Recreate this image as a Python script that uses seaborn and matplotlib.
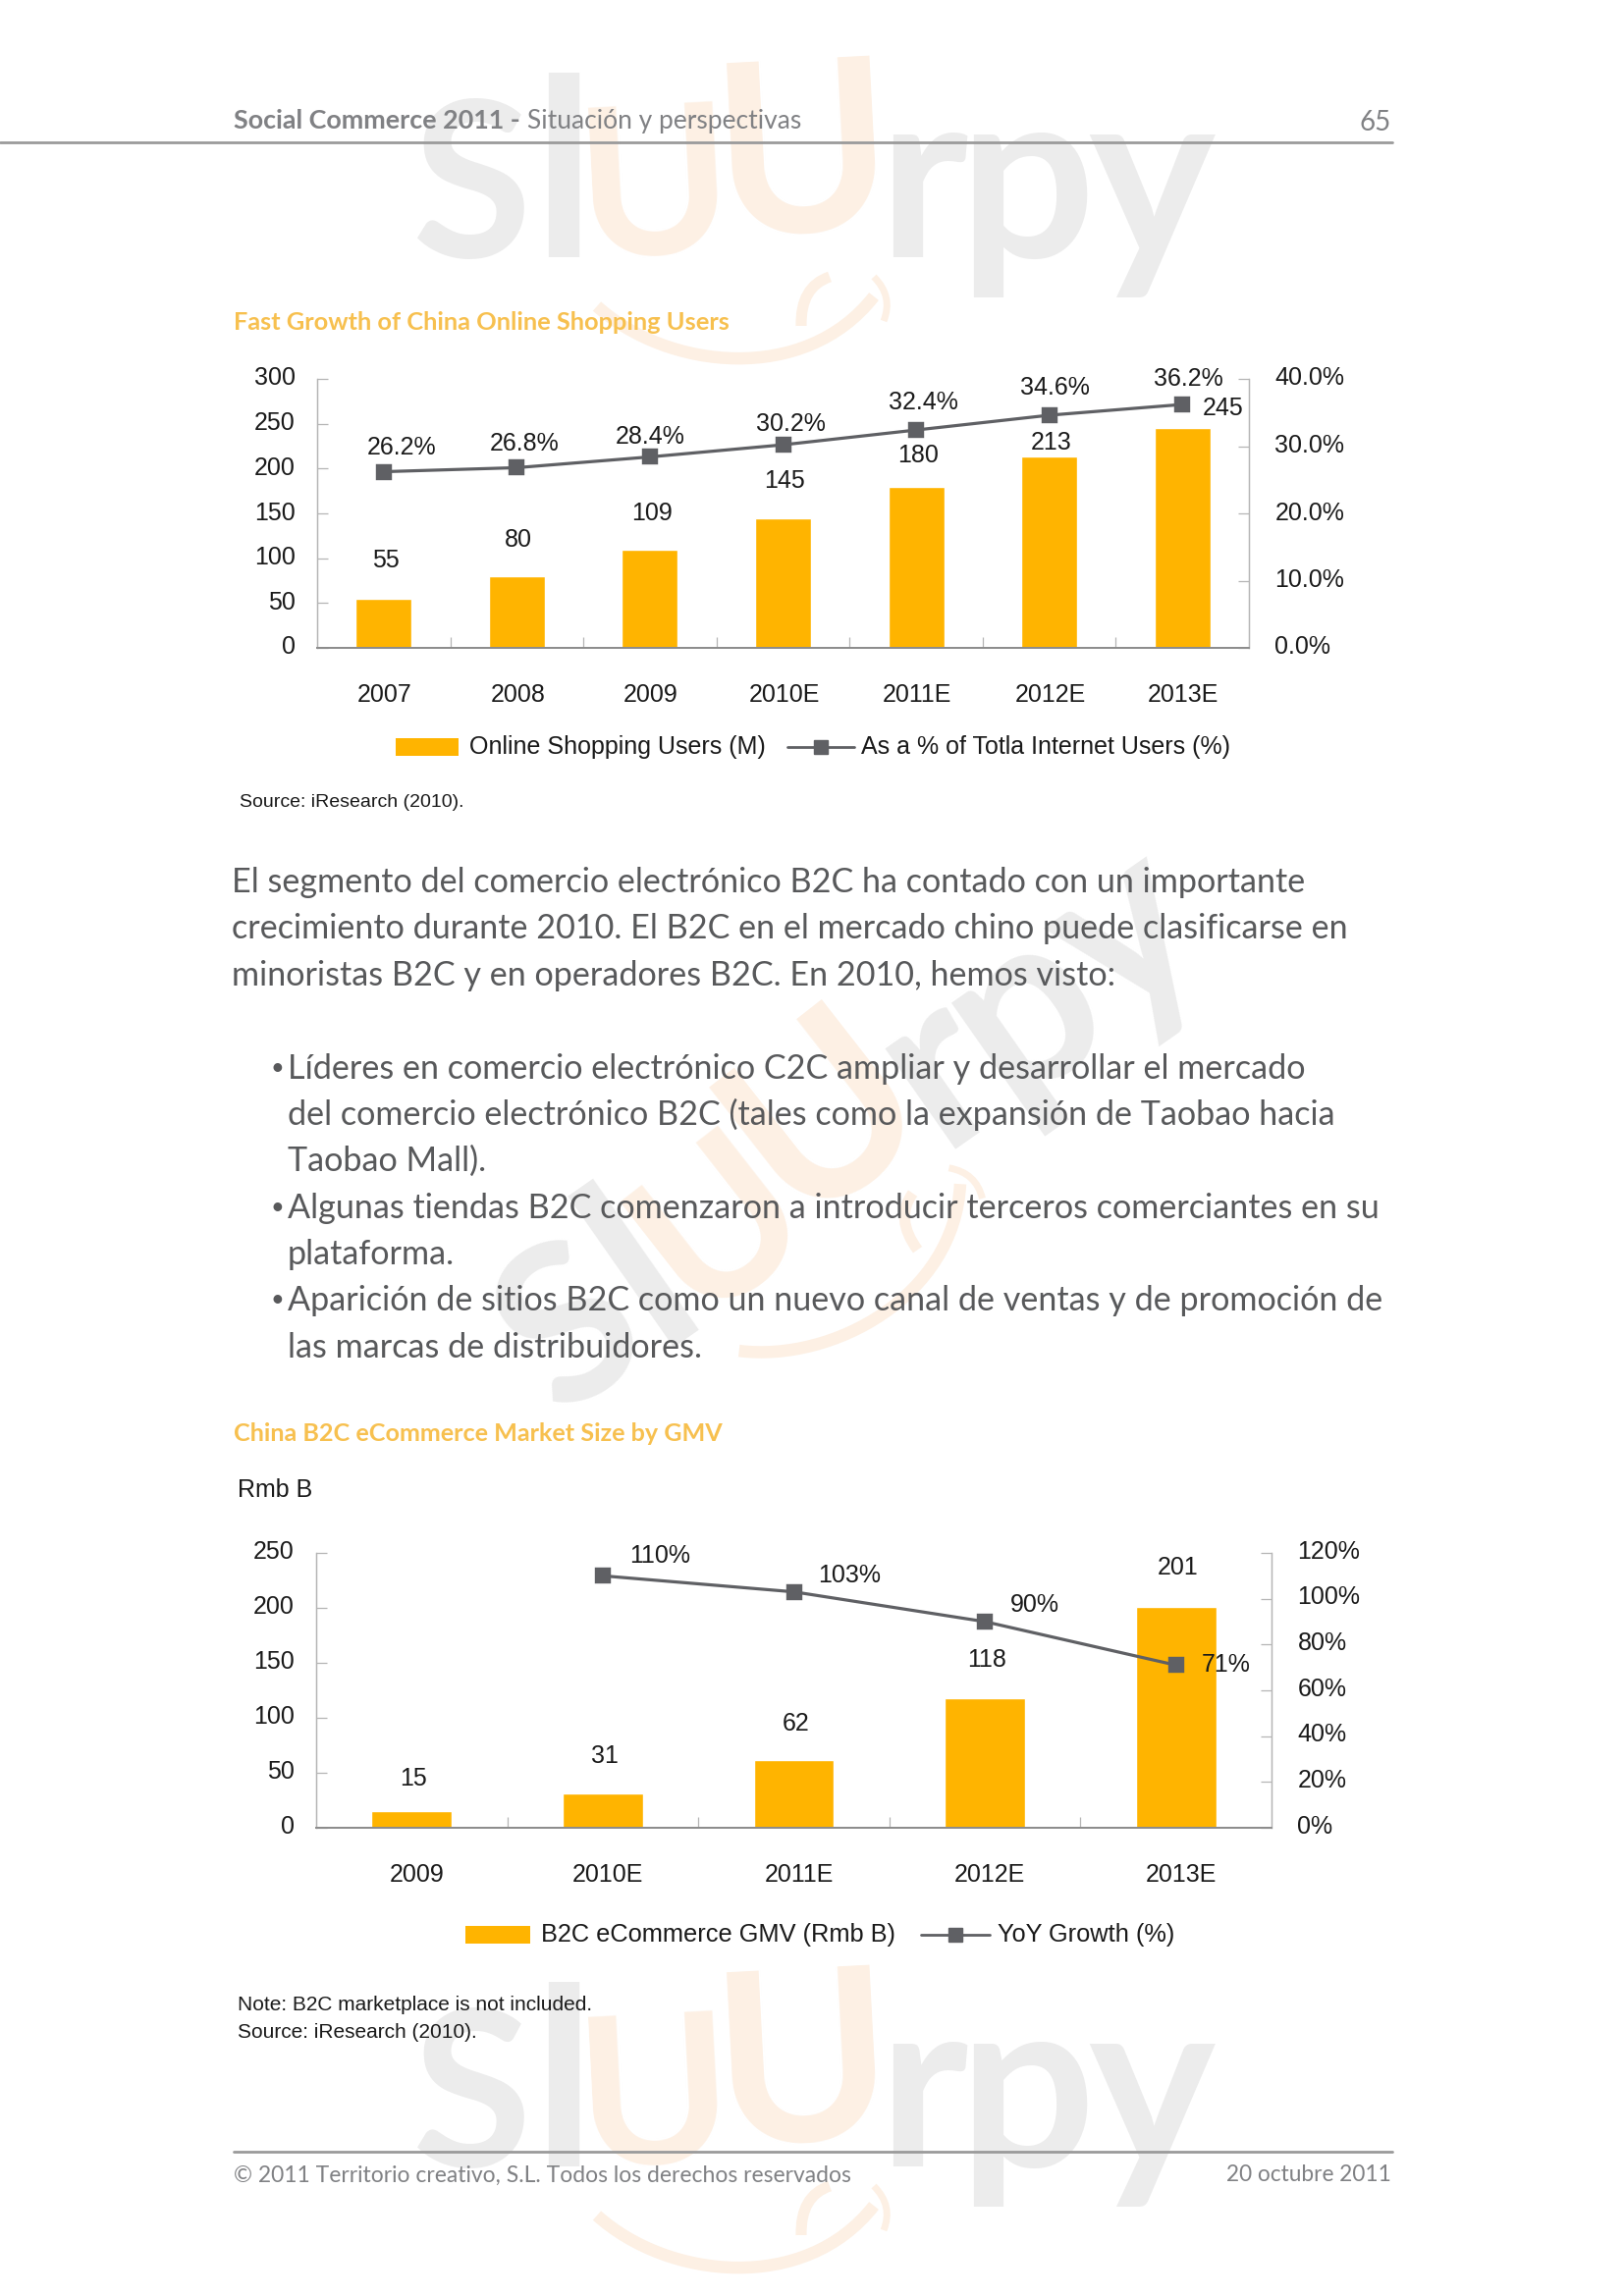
import numpy as np
import pandas as pd
import seaborn as sns
import matplotlib.pyplot as plt
from matplotlib.patches import PathPatch
from matplotlib.path import Path
from matplotlib.transforms import ScaledTranslation

# chart 1
years_users = ['2007', '2008', '2009', '2010E', '2011E', '2012E', '2013E']
users = [55, 80, 109, 145, 180, 213, 245]
users_pct = [26.2, 26.8, 28.4, 30.2, 32.4, 34.6, 36.2]

# chart 2
years_gmv = ['2009', '2010E', '2011E', '2012E', '2013E']
gmv = [15, 31, 62, 118, 201]
gmv_growth = [np.nan, 110, 103, 90, 71]

BODY_1 = ['El segmento del comercio electrónico B2C ha contado con un importante',
          'crecimiento durante 2010. El B2C en el mercado chino puede clasificarse en',
          'minoristas B2C y en operadores B2C. En 2010, hemos visto:']
BODY_2 = ['Líderes en comercio electrónico C2C ampliar y desarrollar el mercado',
          'del comercio electrónico B2C (tales como la expansión de Taobao hacia',
          'Taobao Mall).',
          'Algunas tiendas B2C comenzaron a introducir terceros comerciantes en su',
          'plataforma.',
          'Aparición de sitios B2C como un nuevo canal de ventas y de promoción de',
          'las marcas de distribuidores.']

AMBER = '#ffb400'
SLATE = '#5f6064'
INK = '#1a1a1a'
MARK_GREY = '#ececec'
MARK_PEACH = '#fdf0e4'
W, H = 1654, 2339

sns.set_style('white')
plt.rcParams['font.family'] = ['Liberation Sans', 'DejaVu Sans']

fig = plt.figure(figsize=(W / 100, H / 100), dpi=100)
page = fig.add_axes([0, 0, 1, 1])
page.set_xlim(0, W)
page.set_ylim(H, 0)
page.axis('off')


def watermark(x, y, rot):
    # logo letters laid out along a rotated baseline
    a = np.deg2rad(rot)

    def at(dx, dy):
        return x + dx * np.cos(a) + dy * np.sin(a), y - dx * np.sin(a) + dy * np.cos(a)

    letters = [('S', 0, 0, 160, MARK_GREY, 0), ('l', 122, 0, 183, MARK_GREY, 0),
               ('U', 172, 0, 152, MARK_PEACH, 3), ('U', 312, -22, 175, MARK_PEACH, 3),
               ('r', 474, 0, 176, MARK_GREY, 0), ('p', 556, 0, 176, MARK_GREY, 0),
               ('y', 688, 0, 176, MARK_GREY, 0)]
    for ch, dx, dy, size, col, tilt in letters:
        px, py = at(dx, dy)
        page.text(px, py, ch, family='Lato', weight='bold', fontsize=size, color=col,
                  rotation=rot + tilt, rotation_mode='anchor', ha='left', va='baseline', zorder=0)
    smile = Path([at(188, 50), at(260, 115), at(400, 130), at(470, 40)],
                 [Path.MOVETO, Path.CURVE4, Path.CURVE4, Path.CURVE4])
    page.add_patch(PathPatch(smile, fc='none', ec=MARK_PEACH, lw=9, zorder=0))
    tongue = Path([at(396, 70), at(395, 30), at(425, 20)], [Path.MOVETO, Path.CURVE3, Path.CURVE3])
    page.add_patch(PathPatch(tongue, fc='none', ec=MARK_PEACH, lw=8, zorder=0))
    flick = Path([at(470, 20), at(490, 40), at(480, 65)], [Path.MOVETO, Path.CURVE3, Path.CURVE3])
    page.add_patch(PathPatch(flick, fc='none', ec=MARK_PEACH, lw=5, zorder=0))


watermark(420, 262, 0)
watermark(570, 1443, 35)
watermark(420, 2207, 0)


def combo(box, cats, bars, line, ylim, y2lim, yticks, y2ticks, y2fmt, fs, xshift, yshift):
    left, top, right, bottom = box
    ax = fig.add_axes([left / W, 1 - bottom / H, (right - left) / W, (bottom - top) / H])
    ax.patch.set_alpha(0)
    df = pd.DataFrame({'cat': cats, 'bar': bars, 'line': line})
    sns.barplot(data=df, x='cat', y='bar', color=AMBER, saturation=1, width=0.42, ax=ax)
    ax2 = ax.twinx()
    sns.pointplot(data=df, x='cat', y='line', color=SLATE, markers='s', markersize=10,
                  linewidth=2.3, errorbar=None, ax=ax2)
    n = len(cats)
    for a in (ax, ax2):
        a.set_xlim(-0.5, n - 0.5)
        a.set_xlabel('')
        a.set_ylabel('')
        a.grid(False)
        a.spines['top'].set_visible(False)
        a.spines['left'].set_color('#b5b5b5')
        a.spines['right'].set_color('#b5b5b5')
        a.spines['left'].set_linewidth(0.9)
        a.spines['right'].set_linewidth(0.9)
        a.spines['bottom'].set_color('#8c8c8c')
        a.spines['bottom'].set_linewidth(1.3)
    ax.set_ylim(*ylim)
    ax2.set_ylim(*y2lim)
    ax.set_yticks(yticks)
    ax2.set_yticks(y2ticks, [y2fmt.format(v) for v in y2ticks])
    ax.tick_params(axis='y', direction='in', length=8, width=0.9, color='#b5b5b5',
                   labelsize=fs, pad=16, left=True, labelcolor=INK)
    ax2.tick_params(axis='y', direction='in', length=8, width=0.9, color='#b5b5b5',
                    labelsize=fs, pad=19, right=True, labelcolor=INK)
    ax.set_xticks(np.arange(n))
    ax.set_xticklabels(cats)
    ax.tick_params(axis='x', length=0, pad=26, labelsize=fs, labelcolor=INK)
    ax2.tick_params(axis='x', bottom=False, labelbottom=False)
    # labels sit a little off their ticks in the original
    for lab in ax.get_xticklabels():
        lab.set_transform(lab.get_transform() + ScaledTranslation(xshift / 100, 0, fig.dpi_scale_trans))
    for lab in ax.get_yticklabels() + ax2.get_yticklabels():
        lab.set_transform(lab.get_transform() + ScaledTranslation(0, yshift / 100, fig.dpi_scale_trans))
    # small ticks between the categories
    ax.vlines(np.arange(1, n) - 0.5, 0, ylim[1] * 11 / (bottom - top), color='#b5b5b5', lw=0.9)
    return ax, ax2


# first chart
ax, ax2 = combo((323, 386, 1272, 660), years_users, users, users_pct, (0, 300), (0, 40),
                [0, 50, 100, 150, 200, 250, 300], [0, 10, 20, 30, 40], '{:.1f}%', 18, 1, 3)
bar_off = [27, 25, 25, 26, 20, 2]
for i, v in enumerate(users):
    if i == 6:
        ax.annotate(str(v), (i, v), xytext=(21, 8), textcoords='offset pixels', ha='left',
                    va='bottom', fontsize=18, color=INK)
    else:
        ax.annotate(str(v), (i, v), xytext=(2, bar_off[i]), textcoords='offset pixels', ha='center',
                    va='bottom', fontsize=18, color=INK)
pct_off = [(18, 13), (8, 12), (0, 8), (8, 9), (7, 16), (6, 16), (6, 14)]
for i, v in enumerate(users_pct):
    ax2.annotate(f'{v}%', (i, v), xytext=pct_off[i], textcoords='offset pixels',
                 ha='center', va='bottom', fontsize=18, color=INK)

# second chart
ax, ax2 = combo((322, 1582, 1295, 1862), years_gmv, gmv, gmv_growth, (0, 250), (0, 120),
                [0, 50, 100, 150, 200, 250], [0, 20, 40, 60, 80, 100, 120], '{:.0f}%', 18, 5, 4)
bar_off = [21, 26, 25, 27, 28]
for i, v in enumerate(gmv):
    ax.annotate(str(v), (i, v), xytext=(2, bar_off[i]), textcoords='offset pixels', ha='center',
                va='bottom', fontsize=18, color=INK)
growth_off = {1: (58, 8), 2: (57, 5), 3: (51, 5), 4: (51, -12)}
for i, v in enumerate(gmv_growth):
    if i in growth_off:
        ax2.annotate(f'{v:.0f}%', (i, v), xytext=growth_off[i], textcoords='offset pixels', ha='center',
                     va='bottom', fontsize=18, color=INK)


# hand-placed legends to keep the gap between the two entries
def legend(y, x0, x1, label1, lx1, lx2, lx3, label2, fs):
    page.fill_between([x0, x1], y - 9, y + 9, color=AMBER, lw=0, zorder=3)
    page.text(x1 + 11, y, label1, va='center', fontsize=fs, color=INK)
    page.plot([lx1, lx3], [y, y], color=SLATE, lw=2)
    page.plot([(lx1 + lx3) / 2], [y], 's', color=SLATE, ms=10)
    page.text(lx2, y, label2, va='center', fontsize=fs, color=INK)


legend(761, 403, 467, 'Online Shopping Users (M)', 802, 877, 870, 'As a % of Totla Internet Users (%)', 18)
legend(1971, 474, 540, 'B2C eCommerce GMV (Rmb B)', 938, 1016, 1008, 'YoY Growth (%)', 18.3)

# page text
GREY = '#808184'
TXT = '#58595b'
page.text(238, 123, 'Social Commerce 2011 -', family='Lato', weight='bold', fontsize=19.4, color=GREY, va='center')
page.text(537, 123, 'Situación y perspectivas', family='Lato', fontsize=19, color=GREY, va='center')
page.text(1417, 125, '65', family='Lato', fontsize=20, color=GREY, va='center', ha='right')
page.plot([0, 1418], [145, 145], color='#9a9a9a', lw=2)
page.text(238, 329, 'Fast Growth of China Online Shopping Users', family='Lato', weight='bold',
          fontsize=18.3, color='#f7c04f', va='center')
page.text(238, 1461, 'China B2C eCommerce Market Size by GMV', family='Lato', weight='bold',
          fontsize=18.1, color='#f7c04f', va='center')
page.text(244, 818, 'Source: iResearch (2010).', fontsize=14, color=INK, va='center')
page.text(242, 1518, 'Rmb B', fontsize=18, color=INK, va='center')
page.text(242, 2042, 'Note: B2C marketplace is not included.', fontsize=15, color=INK, va='center')
page.text(242, 2070, 'Source: iResearch (2010).', fontsize=15, color=INK, va='center')

for i, s in enumerate(BODY_1):
    page.text(236, 899 + i * 47.5, s, family='Lato', fontsize=24.6, color=TXT, va='center')
body_y = [1089, 1135, 1183, 1231, 1278, 1325, 1373]
for y, s in zip(body_y, BODY_2):
    page.text(293, y, s, family='Lato', fontsize=24.6, color=TXT, va='center')
for y in (body_y[0], body_y[3], body_y[5]):
    page.text(275, y, '•', family='Lato', fontsize=17, color=TXT, va='center')

page.plot([238, 1418], [2192, 2192], color='#9a9a9a', lw=2)
page.text(238, 2216, '© 2011 Territorio creativo, S.L. Todos los derechos reservados', family='Lato',
          fontsize=16.5, color=GREY, va='center')
page.text(1417, 2216, '20 octubre 2011', family='Lato', fontsize=16.3, color=GREY, va='center', ha='right')

fig.savefig('out.png', dpi=100)
